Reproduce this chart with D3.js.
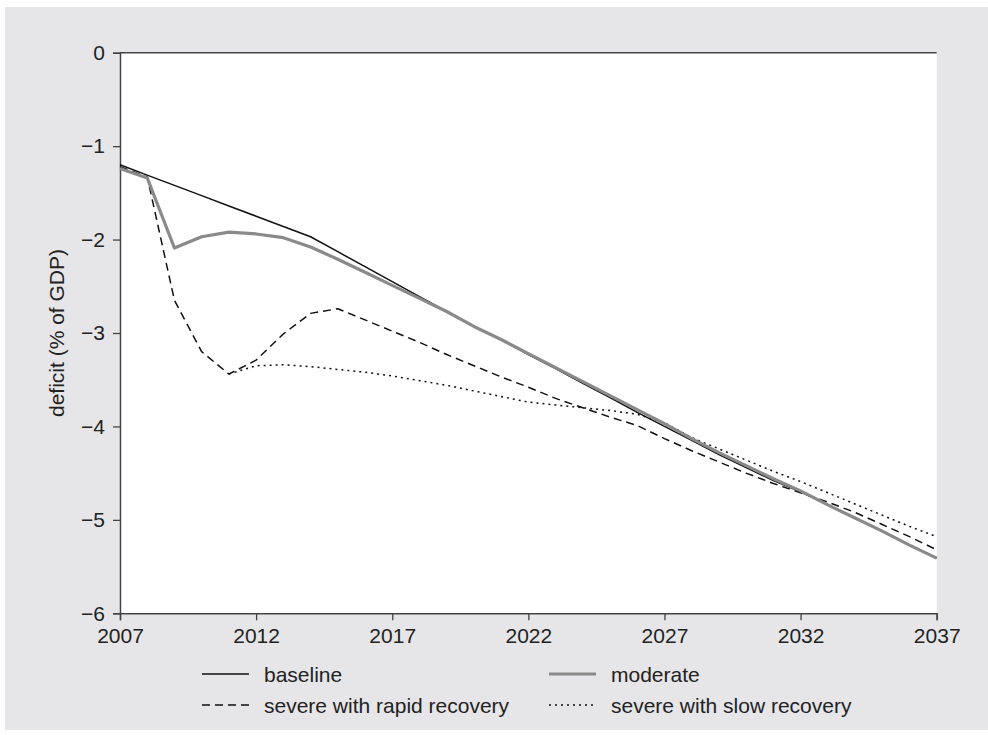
<!DOCTYPE html>
<html>
<head>
<meta charset="utf-8">
<script src="https://cdn.jsdelivr.net/npm/d3@7"></script>
<style>
  html, body { margin: 0; padding: 0; background: #ffffff; }
  svg { display: block; }
  text { font-family: "Liberation Sans", Arial, Helvetica, sans-serif; fill: #222; }
</style>
</head>
<body>
<svg id="chart" width="988" height="735"></svg>
<script>
const years = d3.range(2007, 2038);
const baseline = [-1.20,-1.31,-1.42,-1.53,-1.64,-1.75,-1.86,-1.97,-2.13,-2.29,-2.45,-2.61,-2.77,-2.93,-3.07,-3.23,-3.38,-3.54,-3.69,-3.85,-4.00,-4.15,-4.30,-4.44,-4.58,-4.70,-4.84,-4.98,-5.12,-5.27,-5.41];
const moderate = [-1.24,-1.34,-2.09,-1.97,-1.92,-1.94,-1.98,-2.08,-2.21,-2.35,-2.49,-2.63,-2.77,-2.93,-3.07,-3.22,-3.37,-3.52,-3.67,-3.82,-3.97,-4.13,-4.28,-4.42,-4.56,-4.69,-4.84,-4.98,-5.12,-5.27,-5.41];
const severeRapid = [-1.22,-1.33,-2.65,-3.20,-3.44,-3.29,-3.01,-2.79,-2.74,-2.86,-2.98,-3.10,-3.23,-3.35,-3.47,-3.58,-3.70,-3.80,-3.90,-3.99,-4.13,-4.26,-4.38,-4.50,-4.61,-4.71,-4.81,-4.92,-5.05,-5.18,-5.32];
const severeSlow = [null,null,null,null,-3.44,-3.35,-3.34,-3.36,-3.39,-3.42,-3.46,-3.51,-3.56,-3.62,-3.68,-3.74,-3.77,-3.80,-3.83,-3.87,-3.96,-4.12,-4.24,-4.36,-4.48,-4.59,-4.71,-4.83,-4.95,-5.07,-5.18];
const xTicks = [2007, 2012, 2017, 2022, 2027, 2032, 2037];
const yTicks = [0, -1, -2, -3, -4, -5, -6];
const seriesNames = ["baseline", "moderate", "severe with rapid recovery", "severe with slow recovery"];

const svg = d3.select("#chart");
const FONT = 21;

// panel background
svg.append("rect").attr("x", 5).attr("y", 7).attr("width", 983).attr("height", 723).attr("fill", "#e6e6e8");

const L = 120, R = 936.7, T = 52.7, B = 613.3;
const x = d3.scaleLinear().domain([2007, 2037]).range([L, R]);
const y = d3.scaleLinear().domain([-6, 0]).range([B, T]);

svg.append("rect").attr("x", L).attr("y", T).attr("width", R - L).attr("height", B - T).attr("fill", "#ffffff");

// top border
svg.append("line").attr("x1", L).attr("x2", R).attr("y1", T).attr("y2", T)
  .attr("stroke", "#444").attr("stroke-width", 1.5);

const fmt = d => (d < 0 ? "\u2212" + Math.abs(d) : String(d));

const yAxis = svg.append("g").attr("transform", `translate(${L},0)`)
  .call(d3.axisLeft(y).tickValues(yTicks).tickFormat(fmt).tickSize(7).tickPadding(8));
const xAxis = svg.append("g").attr("transform", `translate(0,${B})`)
  .call(d3.axisBottom(x).tickValues(xTicks).tickFormat(d3.format("d")).tickSize(7).tickPadding(8));

[yAxis, xAxis].forEach(g => {
  g.select(".domain").attr("stroke", "#444").attr("stroke-width", 1.5);
  g.selectAll(".tick line").attr("stroke", "#444").attr("stroke-width", 1.3);
  g.selectAll(".tick text").attr("font-size", FONT).attr("fill", "#222")
    .style("font-family", '"Liberation Sans", Arial, sans-serif');
});

// y label
svg.append("text").attr("transform", `translate(56,${(T + B) / 2}) rotate(-90)`)
  .attr("text-anchor", "middle").attr("dominant-baseline", "central")
  .attr("font-size", FONT).text("deficit (% of GDP)");

const styles = [
  { data: severeSlow, stroke: "#111", width: 1.5, dash: "2,4" },
  { data: severeRapid, stroke: "#111", width: 1.5, dash: "8,5" },
  { data: baseline, stroke: "#111", width: 1.5, dash: null },
  { data: moderate, stroke: "#8a8a8a", width: 3.2, dash: null }
];

const line = d3.line().defined(d => d[1] !== null).x(d => x(d[0])).y(d => y(d[1]));
const plot = svg.append("g");
styles.forEach(s => {
  plot.append("path").datum(years.map((yr, i) => [yr, s.data[i]]))
    .attr("d", line).attr("fill", "none").attr("stroke", s.stroke)
    .attr("stroke-width", s.width).attr("stroke-dasharray", s.dash)
    .attr("stroke-linejoin", "round");
});

// legend
const legendItems = [
  { name: seriesNames[0], stroke: "#111", width: 1.5, dash: null, lx: 202, ly: 674 },
  { name: seriesNames[1], stroke: "#8a8a8a", width: 3.2, dash: null, lx: 549, ly: 674 },
  { name: seriesNames[2], stroke: "#111", width: 1.5, dash: "8,5", lx: 202, ly: 705 },
  { name: seriesNames[3], stroke: "#111", width: 1.5, dash: "2,4", lx: 549, ly: 705 }
];
const lg = svg.append("g");
legendItems.forEach(it => {
  lg.append("line").attr("x1", it.lx).attr("x2", it.lx + 47).attr("y1", it.ly).attr("y2", it.ly)
    .attr("stroke", it.stroke).attr("stroke-width", it.width).attr("stroke-dasharray", it.dash);
  lg.append("text").attr("x", it.lx + 62).attr("y", it.ly).attr("dominant-baseline", "central")
    .attr("font-size", FONT).text(it.name);
});
</script>
</body>
</html>
